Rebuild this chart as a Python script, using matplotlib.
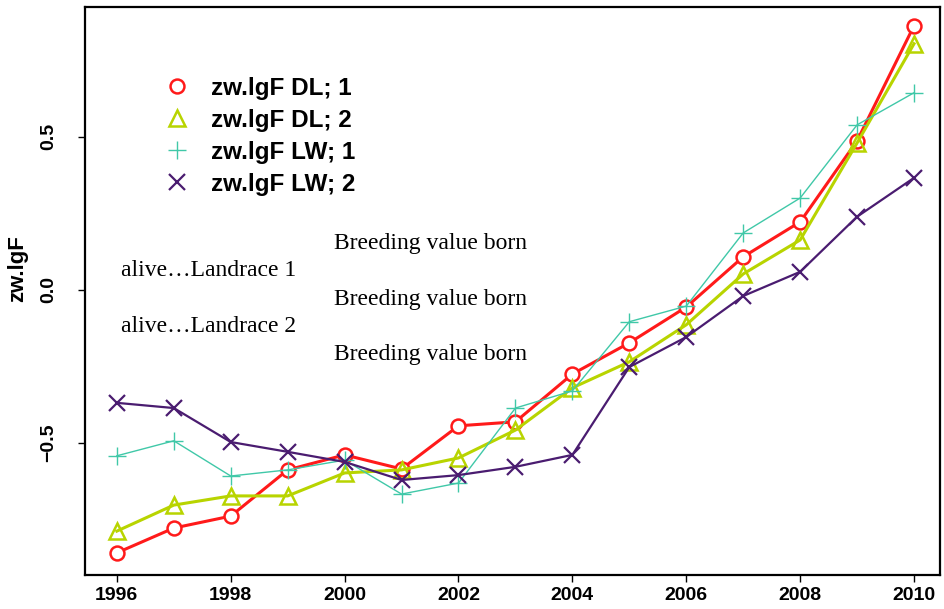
import matplotlib
matplotlib.use("Agg")
import matplotlib.pyplot as plt
from matplotlib.lines import Line2D

years = list(range(1996, 2011))

dl1 = [-0.859, -0.778, -0.739, -0.588, -0.539, -0.585, -0.444, -0.431,
       -0.275, -0.173, -0.056, 0.108, 0.222, 0.487, 0.863]
dl2 = [-0.788, -0.703, -0.673, -0.673, -0.598, -0.588, -0.549, -0.458,
       -0.320, -0.235, -0.114, 0.052, 0.163, 0.480, 0.804]
lw1 = [-0.542, -0.493, -0.608, -0.588, -0.556, -0.667, -0.631, -0.386,
       -0.330, -0.104, -0.053, 0.186, 0.300, 0.539, 0.644]
lw2 = [-0.369, -0.386, -0.497, -0.529, -0.562, -0.621, -0.605, -0.578,
       -0.539, -0.252, -0.154, -0.020, 0.059, 0.239, 0.366]

labels = ["zw.lgF DL; 1", "zw.lgF DL; 2", "zw.lgF LW; 1", "zw.lgF LW; 2"]
xticks = [1996, 1998, 2000, 2002, 2004, 2006, 2008, 2010]
yticks = [-0.5, 0.0, 0.5]
ytick_labels = ['\u22120.5', '0.0', '0.5']

plt.rcParams['font.family'] = ['Liberation Sans', 'DejaVu Sans']

fig = plt.figure(figsize=(9.44, 6.09), dpi=100)
ax = fig.add_axes([0.090, 0.056, 0.906, 0.933])

styles = [
    dict(color='#ff1a1a', lw=2.2, marker='o', ms=10, mfc='white', mec='#ff1a1a', mew=1.8),
    dict(color='#b8d400', lw=2.2, marker='^', ms=11, mfc='none', mec='#b8d400', mew=1.8),
    dict(color='#40c8a8', lw=1.0, marker='+', ms=13, mew=1.0),
    dict(color='#4a1c70', lw=1.6, marker='x', ms=11, mew=1.6),
]
series = [dl1, dl2, lw1, lw2]
handles = []
for vals, st, lab in zip(series, styles, labels):
    ax.plot(years, vals, **st)
    h = dict(st)
    h['ls'] = 'none'
    handles.append(Line2D([], [], label=lab, **h))

ax.set_xlim(1995.44, 2010.46)
ax.set_ylim(-0.931, 0.925)
ax.set_xticks(xticks)
ax.set_xticklabels([str(v) for v in xticks], fontsize=14, fontweight='bold')
ax.set_yticks(yticks)
ax.set_yticklabels(ytick_labels, fontsize=14, fontweight='bold', rotation=90,
                   va='center')
ax.tick_params(direction='out', length=5, width=1)
ax.tick_params(axis='y', pad=15)
ax.set_ylabel('zw.lgF', fontsize=16, fontweight='bold')
ax.yaxis.set_label_coords(-0.066, 0.54)
for s in ax.spines.values():
    s.set_linewidth(1.6)

leg = ax.legend(handles=handles, loc='upper left', bbox_to_anchor=(0.068, 0.915),
                frameon=False, fontsize=17.5, handlelength=1.0,
                handletextpad=0.9, labelspacing=0.37)
for t in leg.get_texts():
    t.set_fontweight('bold')

serif = ['Liberation Serif', 'DejaVu Serif']
for yy in [0.152, -0.030, -0.210]:
    ax.text(1999.82, yy, 'Breeding value born', family=serif, fontsize=17,
            va='center', ha='left')
ax.text(1996.08, 0.062, 'alive\u2026Landrace 1', family=serif, fontsize=17,
        va='center', ha='left')
ax.text(1996.08, -0.118, 'alive\u2026Landrace 2', family=serif, fontsize=17,
        va='center', ha='left')

fig.savefig('out.png', dpi=100)
